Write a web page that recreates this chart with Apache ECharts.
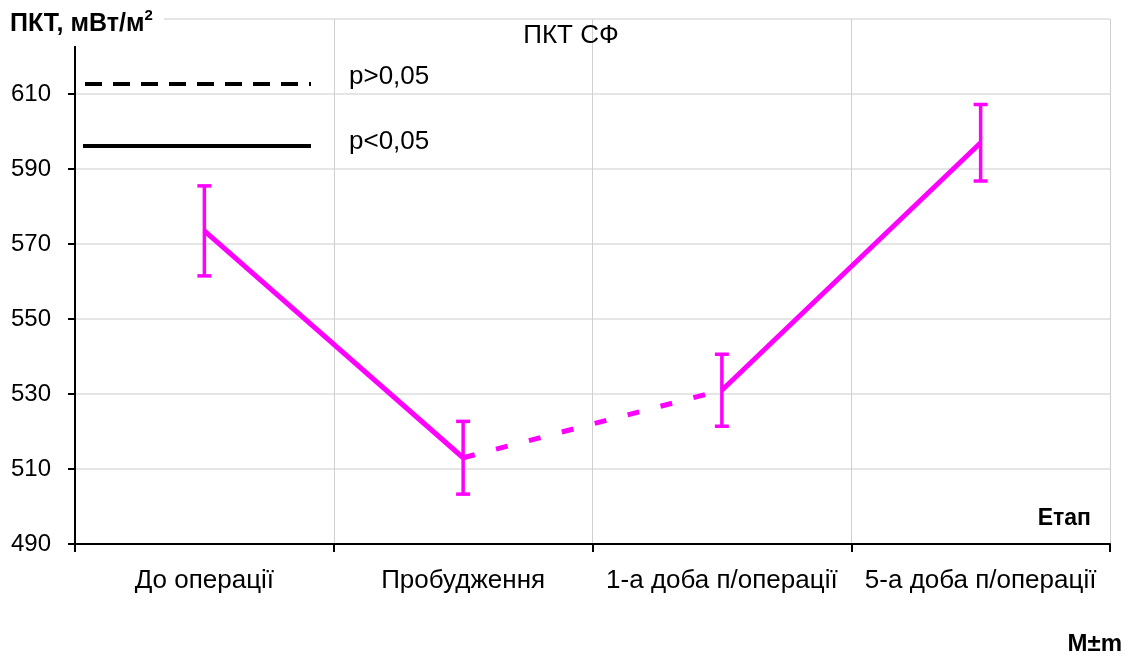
<!DOCTYPE html>
<html>
<head>
<meta charset="utf-8">
<script src="https://cdn.jsdelivr.net/npm/echarts@6/dist/echarts.min.js"></script>
<style>
  html, body { margin: 0; padding: 0; background: #fff; }
  #chart { width: 1131px; height: 659px; }
</style>
</head>
<body>
<div id="chart"></div>
<script>
// Stages of observation
const categories = ['До операції', 'Пробудження', '1-а доба п/операції', '5-а доба п/операції'];
// Mean values (M) and standard error (m), мВт/м²
const means = [573.5, 513, 531, 597];
const errors = [12, 9.7, 9.6, 10.2];
// Significance between neighbouring stages (p<0,05 → solid, p>0,05 → dashed)
const significant = [true, false, true];
// Value axis
const yMin = 490, yMax = 630, yStep = 20;

const FONT = '"Liberation Sans", Arial, sans-serif';
const MAGENTA = '#ff00ff';

// One line series per segment so solid and dashed pieces never get bridged
function segmentSeries(flag) {
  const out = [];
  significant.forEach((s, i) => {
    if (s !== flag) return;
    const d = categories.map(() => null);
    d[i] = means[i]; d[i + 1] = means[i + 1];
    out.push({
      type: 'line', data: d, symbol: 'none', connectNulls: false, z: 3,
      lineStyle: { color: MAGENTA, width: 5, type: flag ? 'solid' : [12, 22], cap: 'butt' }
    });
  });
  return out;
}

const errData = means.map((m, i) => [i, m - errors[i], m + errors[i]]);

const chart = echarts.init(document.getElementById('chart'));
chart.setOption({
  animation: false,
  backgroundColor: '#fff',
  grid: { left: 75, right: 21, top: 19, bottom: 115 },
  title: {
    text: 'ПКТ СФ', left: 566, top: 18, textAlign: 'center',
    textStyle: { fontFamily: FONT, fontSize: 26, fontWeight: 'normal', color: '#000' }
  },
  xAxis: {
    type: 'category', data: categories, boundaryGap: true,
    axisLine: { lineStyle: { color: '#000', width: 2 } },
    axisTick: { show: true, interval: 0, length: 8, lineStyle: { color: '#000', width: 2 } },
    axisLabel: { interval: 0, color: '#000', fontFamily: FONT, fontSize: 26, margin: 24 },
    splitLine: { show: true, interval: 0, lineStyle: { color: '#d0d0d0', width: 1 } }
  },
  yAxis: {
    type: 'value', min: yMin, max: yMax, interval: yStep,
    axisLine: { show: true, lineStyle: { color: '#000', width: 2 } },
    axisTick: { show: true, length: 7, lineStyle: { color: '#000', width: 2 } },
    axisLabel: {
      color: '#000', fontFamily: FONT, fontSize: 24, margin: 24,
      formatter: v => (v === yMax ? '' : String(v))
    },
    splitLine: { show: true, lineStyle: { color: '#dcdcdc', width: 1.5 } }
  },
  series: [
    ...segmentSeries(true),
    ...segmentSeries(false),
    {
      type: 'custom', z: 4,
      data: errData,
      renderItem: (params, api) => {
        const lo = api.coord([api.value(0), api.value(1)]);
        const hi = api.coord([api.value(0), api.value(2)]);
        const hw = 7;
        const style = { stroke: MAGENTA, lineWidth: 3.5 };
        return {
          type: 'group', children: [
            { type: 'line', shape: { x1: lo[0], y1: lo[1], x2: hi[0], y2: hi[1] }, style },
            { type: 'line', shape: { x1: lo[0] - hw, y1: lo[1], x2: lo[0] + hw, y2: lo[1] }, style },
            { type: 'line', shape: { x1: hi[0] - hw, y1: hi[1], x2: hi[0] + hw, y2: hi[1] }, style }
          ]
        };
      }
    }
  ],
  graphic: [
    // axis caption on white so the top of the grid is hidden behind it
    {
      type: 'rect', left: 0, top: 0, shape: { width: 164, height: 46 },
      style: { fill: '#fff' }, z: 50
    },
    {
      type: 'text', left: 10, top: 8, z: 51,
      style: {
        text: '{a|ПКТ, мВт/м}{s|2}',
        rich: {
          a: { fontFamily: FONT, fontSize: 25, fontWeight: 'bold', fill: '#000', verticalAlign: 'bottom' },
          s: { fontFamily: FONT, fontSize: 15, fontWeight: 'bold', fill: '#000', verticalAlign: 'top', padding: [0, 0, 14, 0] }
        }
      }
    },
    // significance legend
    { type: 'line', shape: { x1: 85, y1: 84, x2: 311, y2: 84 }, style: { stroke: '#000', lineWidth: 4, lineDash: [17, 11] }, z: 20 },
    { type: 'line', shape: { x1: 83, y1: 146, x2: 311, y2: 146 }, style: { stroke: '#000', lineWidth: 4 }, z: 20 },
    { type: 'text', left: 349, top: 64, style: { text: 'p>0,05', fontFamily: FONT, fontSize: 26, fill: '#000' }, z: 20 },
    { type: 'text', left: 349, top: 129, style: { text: 'p<0,05', fontFamily: FONT, fontSize: 26, fill: '#000' }, z: 20 },
    { type: 'text', right: 40, top: 507, style: { text: 'Етап', fontFamily: FONT, fontSize: 23, fontWeight: 'bold', fill: '#000' }, z: 20 },
    { type: 'text', right: 9, top: 632, style: { text: 'М±m', fontFamily: FONT, fontSize: 24, fontWeight: 'bold', fill: '#000' }, z: 20 }
  ]
});
</script>
</body>
</html>
